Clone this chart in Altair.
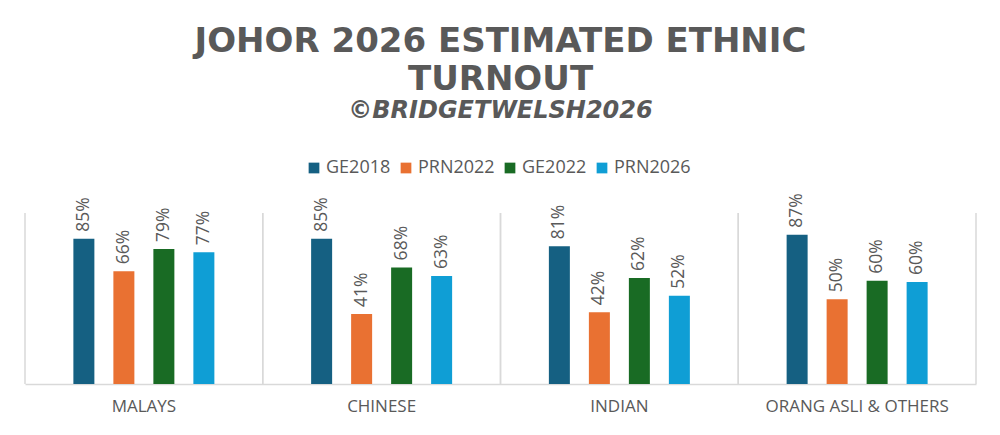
import altair as alt
import pandas as pd

groups = ["MALAYS", "CHINESE", "INDIAN", "ORANG ASLI & OTHERS"]
series = ["GE2018", "PRN2022", "GE2022", "PRN2026"]
colors = ["#156082", "#E97132", "#196B24", "#0F9ED5"]
malays = [85, 66, 79, 77]
chinese = [85, 41, 68.2, 63.1]
indian = [80.6, 42, 62, 51.6]
orang_asli = [87.3, 49.6, 60.4, 59.6]

rows = []
for g, vals in zip(groups, [malays, chinese, indian, orang_asli]):
    for s, v in zip(series, vals):
        rows.append({"group": g, "series": s, "value": v})
df = pd.DataFrame(rows)
gdf = pd.DataFrame({"group": groups})

FONT = "Open Sans"
TFONT = "DejaVu Sans"
GRAY = "#595959"
LINE = "#d9d9d9"
W, H = 951, 171
PI = 0.0705

xscale = alt.Scale(domain=groups, paddingInner=PI, paddingOuter=PI / 2)
sepscale = alt.Scale(domain=groups, paddingInner=0, paddingOuter=0)

bars = alt.Chart(df).mark_bar().encode(
    x=alt.X("group:N", scale=xscale, sort=groups,
            axis=alt.Axis(title=None, orient="bottom", ticks=False, grid=False,
                          domainColor=LINE, domainWidth=1.5,
                          labelFont=FONT, labelFontSize=17, labelColor=GRAY,
                          labelPadding=14, labelAngle=0, labelLimit=0)),
    xOffset=alt.XOffset("series:N", sort=series,
                        scale=alt.Scale(domain=series, paddingInner=0.475, paddingOuter=1)),
    y=alt.Y("value:Q", scale=alt.Scale(domain=[0, 100]), axis=None),
    color=alt.Color("series:N", sort=series,
                    scale=alt.Scale(domain=series, range=colors),
                    legend=alt.Legend(title=None, orient="none", direction="horizontal",
                                      legendX=280, legendY=-54, symbolType="square",
                                      symbolSize=115, symbolStrokeWidth=0,
                                      labelFont=FONT, labelFontSize=18, labelColor=GRAY,
                                      columnPadding=6, labelOffset=3, padding=0)),
)

labels = alt.Chart(df).transform_calculate(
    label="format(datum.value, '.0f') + '%'"
).mark_text(angle=270, align="left", baseline="middle", dx=7,
            font=FONT, fontSize=17.5, color=GRAY).encode(
    x=alt.X("group:N", scale=xscale, sort=groups),
    xOffset=alt.XOffset("series:N", sort=series),
    y=alt.Y("value:Q"),
    text="label:N",
)

sep_left = alt.Chart(gdf).mark_rule(color=LINE, strokeWidth=1.5).encode(
    x=alt.X("group:N", scale=sepscale, sort=groups, bandPosition=0, axis=None),
    y=alt.value(0), y2=alt.value(H),
)
sep_right = alt.Chart(gdf).mark_rule(color=LINE, strokeWidth=1.5).encode(
    x=alt.X("group:N", scale=sepscale, sort=groups, bandPosition=1, axis=None),
    y=alt.value(0), y2=alt.value(H),
)

chart = alt.layer(
    alt.layer(sep_left, sep_right), alt.layer(bars, labels)
).resolve_scale(x="independent").properties(
    width=W, height=H, background="white",
    title=alt.Title(
        text=["JOHOR 2026 ESTIMATED ETHNIC", "TURNOUT"],
        subtitle="©BRIDGETWELSH2026",
        anchor="middle", font=TFONT, fontSize=34, fontWeight="bold", color=GRAY,
        lineHeight=38, subtitleFont=TFONT, subtitleFontSize=24,
        subtitleFontStyle="italic", subtitleFontWeight="bold",
        subtitleColor=GRAY, subtitlePadding=2, offset=36,
    ),
    autosize=alt.AutoSizeParams(type="none"),
    padding={"left": 17, "top": 205, "right": 16, "bottom": 40},
).configure_view(strokeWidth=0)

chart.save("out.html", embed_options={"renderer": "svg", "actions": False})
